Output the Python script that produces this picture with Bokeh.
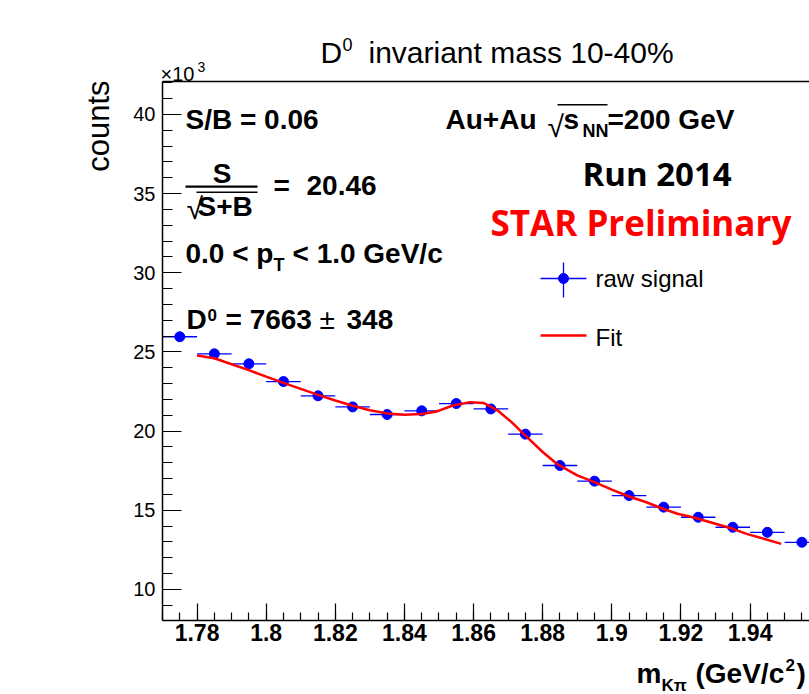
import math
from bokeh.plotting import figure
from bokeh.models import Label, BoxAnnotation, FixedTicker, Range1d, LinearAxis
from bokeh.embed import file_html
from bokeh.resources import INLINE

# ---------------- data (counts in units of 10^3) ----------------
mass_bin_centers = [1.775, 1.785, 1.795, 1.805, 1.815, 1.825, 1.835, 1.845, 1.855, 1.865,
                    1.875, 1.885, 1.895, 1.905, 1.915, 1.925, 1.935, 1.945, 1.955]
raw_counts_k = [25.96, 24.88, 24.25, 23.13, 22.23, 21.53, 21.05, 21.28, 21.74, 21.40,
                19.81, 17.83, 16.84, 15.93, 15.20, 14.56, 13.93, 13.61, 12.98]
raw_errors_k = [0.16, 0.16, 0.16, 0.15, 0.15, 0.15, 0.15, 0.15, 0.15, 0.15,
                0.14, 0.13, 0.13, 0.13, 0.12, 0.12, 0.12, 0.12, 0.11]
bin_half_width = 0.005

fit_mass = [1.780, 1.785, 1.790, 1.795, 1.800, 1.805, 1.810, 1.815, 1.820, 1.825,
            1.830, 1.835, 1.840, 1.845, 1.849, 1.854, 1.859, 1.863, 1.867, 1.871,
            1.875, 1.880, 1.884, 1.890, 1.895, 1.900, 1.905, 1.910, 1.914, 1.919,
            1.924, 1.930, 1.935, 1.939, 1.944, 1.949]
fit_counts_k = [24.78, 24.60, 24.22, 23.85, 23.44, 23.05, 22.67, 22.29, 21.93, 21.60,
                21.32, 21.12, 21.04, 21.08, 21.22, 21.62, 21.83, 21.77, 21.30, 20.57,
                19.72, 18.68, 17.95, 17.20, 16.78, 16.30, 15.87, 15.51, 15.16, 14.78,
                14.53, 14.15, 13.83, 13.51, 13.20, 12.88]

x_tick_values = [1.78, 1.80, 1.82, 1.84, 1.86, 1.88, 1.90, 1.92, 1.94]
x_tick_labels = ["1.78", "1.8", "1.82", "1.84", "1.86", "1.88", "1.9", "1.92", "1.94"]
y_tick_values = [10, 15, 20, 25, 30, 35, 40]
x_axis_range = (1.77, 1.9572)      # visible part of the histogram axis
y_axis_range = (8.04, 42.08)       # counts axis (x10^3)

# ---------------- layout ----------------
W, H = 809, 694
PL, PR, PT, PB = 162, 809, 81, 620      # plot-box edges in page pixels
xs = (x_axis_range[1] - x_axis_range[0]) / (PR - PL)
ys = (y_axis_range[1] - y_axis_range[0]) / (PB - PT)
XL = x_axis_range[0] - PL * xs
XR = x_axis_range[1] + (W - PR) * xs
YT = y_axis_range[1] + PT * ys
YB = y_axis_range[0] - (H - PB) * ys

def dx(px):
    return XL + px * xs

def dy(py):
    return YT - py * ys

p = figure(width=W, height=H, output_backend="svg", toolbar_location=None,
           x_range=Range1d(XL, XR), y_range=Range1d(YB, YT),
           x_axis_type=None, y_axis_type=None,
           min_border_left=0, min_border_right=0, min_border_top=0, min_border_bottom=0)
p.title.visible = False
p.outline_line_color = None
p.grid.visible = False
p.background_fill_color = "white"
p.border_fill_color = "white"

xa = LinearAxis(fixed_location=y_axis_range[0], bounds=x_axis_range)
xa.ticker = FixedTicker(ticks=x_tick_values,
                        minor_ticks=[round(1.77 + 0.005 * i, 3) for i in range(40)])
xa.major_label_overrides = dict(zip(x_tick_values, x_tick_labels))
xa.major_tick_in, xa.major_tick_out = 17, 0
xa.minor_tick_in, xa.minor_tick_out = 8, 0
xa.axis_line_width = 1.5
xa.major_tick_line_width = 1.2
xa.minor_tick_line_width = 1.2
xa.major_label_text_font = "Liberation Sans"
xa.major_label_text_font_style = "bold"
xa.major_label_text_font_size = "23px"
xa.major_label_text_color = "black"
xa.major_label_standoff = 3
p.add_layout(xa, "below")

ya = LinearAxis(fixed_location=x_axis_range[0], bounds=y_axis_range)
ya.ticker = FixedTicker(ticks=y_tick_values, minor_ticks=list(range(9, 43)))
ya.major_tick_in, ya.major_tick_out = 19, 0
ya.minor_tick_in, ya.minor_tick_out = 10, 0
ya.axis_line_width = 1.5
ya.major_tick_line_width = 1.2
ya.minor_tick_line_width = 1.2
ya.major_label_text_font = "Liberation Sans"
ya.major_label_text_font_size = "20px"
ya.major_label_text_color = "black"
ya.major_label_standoff = 7
p.add_layout(ya, "left")

# top edge of the plot box
ta = LinearAxis(fixed_location=y_axis_range[1], bounds=x_axis_range,
                ticker=FixedTicker(ticks=[], minor_ticks=[]))
ta.axis_line_width = 1.5
ta.major_tick_in = ta.major_tick_out = 0
ta.minor_tick_in = ta.minor_tick_out = 0
ta.major_label_text_font_size = "0px"
p.add_layout(ta, "above")

# ---------------- data marks ----------------
BLUE, RED = "#0000ff", "#ff0000"
p.segment(x0=[c - bin_half_width for c in mass_bin_centers],
          x1=[c + bin_half_width for c in mass_bin_centers],
          y0=raw_counts_k, y1=raw_counts_k, line_color=BLUE, line_width=1.3)
p.segment(x0=mass_bin_centers, x1=mass_bin_centers,
          y0=[v - e for v, e in zip(raw_counts_k, raw_errors_k)],
          y1=[v + e for v, e in zip(raw_counts_k, raw_errors_k)],
          line_color=BLUE, line_width=1.3)
p.scatter(mass_bin_centers, raw_counts_k, marker="circle", size=10,
          fill_color=BLUE, line_color=BLUE)
p.line(fit_mass, fit_counts_k, line_color=RED, line_width=2.5)

# ---------------- text helpers ----------------
SHIFT = {"Liberation Sans": 0.32, "Open Sans": 0.42}

def put(txt, px, py, size, bold=False, font="Liberation Sans", color="black",
        align="left", angle=0.0):
    s = SHIFT.get(font, 0.32) * size
    if angle:
        ax, ay = px - s, py
    else:
        ax, ay = px, py - s
    p.add_layout(Label(x=dx(ax), y=dy(ay), text=txt, text_font=font,
                       text_font_size=f"{size}px",
                       text_font_style="bold" if bold else "normal",
                       text_color=color, text_align=align,
                       text_baseline="alphabetic", angle=angle))

def hbar(px0, px1, py0, py1):
    p.add_layout(BoxAnnotation(left=dx(px0), right=dx(px1), top=dy(py0), bottom=dy(py1),
                               fill_color="black", fill_alpha=1.0, line_color=None))

# title
put("D", 320, 62, 30)
put("0", 342, 50, 18)
put("invariant mass 10-40%", 368, 62, 30)

# y axis title and exponent
put("counts", 108, 80, 31, angle=math.pi / 2, align="right")
put("\u00d710", 160, 80, 20)
put("3", 197, 71, 14)

# x axis title
put("m", 636, 682, 28, bold=True)
put("K\u03c0", 661, 690, 17, bold=True)
put("(GeV/c", 695, 682, 28, bold=True)
put("2", 785, 670, 17, bold=True)
put(")", 796, 682, 28, bold=True)

# statistics box
put("S/B = 0.06", 185, 128, 28, bold=True)
put("S", 221.5, 182, 28, bold=True, align="center")
hbar(185, 257, 185, 187.3)
put("\u221a", 186, 218, 30)
hbar(196, 257, 191, 192.5)
put("S+B", 197, 215, 28, bold=True)
put("=", 273, 194, 28, bold=True)
put("20.46", 306, 194, 28, bold=True)

put("0.0 < p", 185, 262, 28, bold=True)
put("T", 273, 270, 18, bold=True)
put("< 1.0 GeV/c", 292, 262, 28, bold=True)

put("D", 186, 328, 28, bold=True)
put("0", 207, 320, 17, bold=True)
put("= 7663", 225, 328, 28, bold=True)
put("\u00b1", 319, 328, 28)
put("348", 346, 328, 28, bold=True)

put("Au+Au", 445, 128, 28, bold=True)
put("\u221a", 547, 136, 30)
hbar(557, 607, 103.5, 105)
put("s", 563, 128, 28, bold=True)
put("NN", 582, 136, 18, bold=True)
put("=200 GeV", 607, 128, 28, bold=True)

put("Run 2014", 582, 187, 33, bold=True, font="Open Sans")
put("STAR Preliminary", 490, 237, 35, bold=True, font="Open Sans", color=RED)

# legend
p.segment(x0=[dx(540)], x1=[dx(586)], y0=[dy(278)], y1=[dy(278)], line_color=BLUE, line_width=1.3)
p.segment(x0=[dx(563)], x1=[dx(563)], y0=[dy(262)], y1=[dy(297)], line_color=BLUE, line_width=1.3)
p.scatter([dx(563)], [dy(278)], marker="circle", size=10, fill_color=BLUE, line_color=BLUE)
p.segment(x0=[dx(540)], x1=[dx(586)], y0=[dy(335)], y1=[dy(335)], line_color=RED, line_width=2.5)
put("raw signal", 595, 286, 24)
put("Fit", 595, 345, 24)

open("out.html", "w").write(file_html(p, INLINE))
